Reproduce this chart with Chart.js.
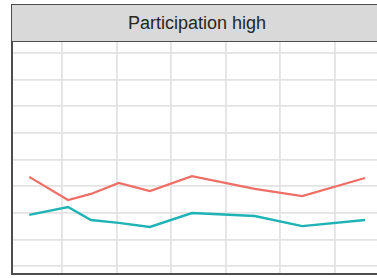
<!DOCTYPE html>
<html>
<head>
<meta charset="utf-8">
<script src="https://cdn.jsdelivr.net/npm/chart.js@4.4.1/dist/chart.umd.min.js"></script>
<style>
  html, body { margin: 0; padding: 0; background: #fff; }
  body { width: 377px; height: 278px; overflow: hidden; position: relative; }
  #strip {
    position: absolute; left: 11px; top: 4px; width: 370px; height: 36px;
    background: #d9d9d9; border: 1.5px solid #4d4d4d;
    font: 18px "Liberation Sans", Arial, sans-serif; color: #262626;
    text-align: center; line-height: 37px;
  }
  #wrap { position: absolute; left: 0; top: 0; width: 400px; height: 278px; }
</style>
</head>
<body>
<div id="wrap"><canvas id="chart" width="400" height="278"></canvas></div>
<div id="strip">Participation high</div>
<script>
// x positions of the observations (in grid units) and the two series
const xValues = [0.40, 1.11, 1.53, 2.04, 2.61, 3.38, 4.53, 5.40, 6.55];
const redSeries = [3.35, 2.48, 2.71, 3.12, 2.82, 3.38, 2.90, 2.63, 3.31];
const tealSeries = [1.92, 2.22, 1.73, 1.62, 1.47, 1.99, 1.88, 1.50, 1.73];

const toPoints = ys => ys.map((y, i) => ({ x: xValues[i], y }));

const ctx = document.getElementById('chart').getContext('2d');
new Chart(ctx, {
  type: 'line',
  data: {
    datasets: [
      {
        label: 'red',
        data: toPoints(redSeries),
        borderColor: '#ef6f66',
        borderWidth: 2.2,
        pointRadius: 0,
        tension: 0,
      },
      {
        label: 'teal',
        data: toPoints(tealSeries),
        borderColor: '#1fb3b6',
        borderWidth: 2.4,
        pointRadius: 0,
        tension: 0,
      },
    ],
  },
  options: {
    responsive: false,
    animation: false,
    layout: { padding: { left: 12, top: 42, right: 18, bottom: 4 } },
    plugins: { legend: { display: false }, tooltip: { enabled: false } },
    scales: {
      x: {
        type: 'linear',
        min: 0.084,
        max: 6.861,
        ticks: { display: false, stepSize: 1, includeBounds: false },
        grid: { color: '#e3e3e3', lineWidth: 1.8, drawTicks: false },
        border: { display: true, color: '#4d4d4d', width: 2 },
      },
      y: {
        min: -0.30,
        max: 8.42,
        ticks: { display: false, stepSize: 1, includeBounds: false },
        grid: { color: '#e3e3e3', lineWidth: 1.8, drawTicks: false },
        border: { display: true, color: '#4d4d4d', width: 2 },
      },
    },
  },
});
</script>
</body>
</html>
